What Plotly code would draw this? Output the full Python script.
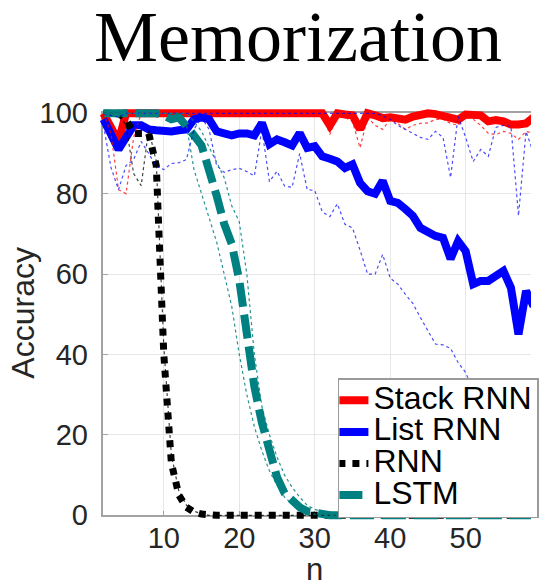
import plotly.graph_objects as go

# ---------------------------------------------------------------- data
n = [2, 3, 4, 5, 6, 7, 8, 9, 10, 11, 12, 13, 14, 15, 16, 17, 18, 19, 20,
     21, 22, 23, 24, 25, 26, 27, 28, 29, 30, 31, 32, 33, 34, 35, 36, 37, 38,
     39, 40, 41, 42, 43, 44, 45, 46, 47, 48, 49, 50, 51, 52, 53, 54, 55, 56,
     57, 58, 59]

# Stack RNN: best run (thick) and second run (thin dotted)
stack_rnn = [100, 96.5, 93, 100, 100, 100, 100, 100, 100, 100, 100, 100, 100,
             100, 100, 100, 100, 100, 100, 100, 100, 100, 100, 100, 100, 100,
             100, 100, 100, 100, 97, 100, 99.7, 99.5, 96, 100, 99.5, 98.8, 99,
             98.6, 98.4, 99.2, 99.7, 100, 99.8, 99.4, 98.8, 98.4, 99.7, 99.7,
             99.5, 98, 98.3, 98, 97.2, 97.2, 97.5, 99]
stack_rnn_alt = [100, 95, 81, 80, 94, 100, 100, 100, 100, 100, 100, 100, 100,
                 100, 100, 100, 100, 100, 100, 100, 100, 100, 100, 100, 100,
                 100, 100, 100, 100, 100, 94.7, 99.5, 99, 98, 91.4, 99, 97, 96,
                 98.5, 97.5, 96, 97, 97.5, 97.6, 98.5, 98.5, 97.5, 97, 99,
                 98.5, 97, 95, 94.7, 95.5, 95, 93.5, 95.5, 95]

# List RNN
list_rnn = [98.5, 95, 91, 94, 97, 97, 96, 95.8, 95.5, 95.5, 95.8, 96, 98.5,
            99, 98.5, 95.5, 95, 94.5, 95, 95, 94.5, 97.6, 92.3, 93.5, 92.8,
            92, 95.1, 91.4, 91.8, 89.3, 88.7, 88, 86.4, 87.3, 82.7, 80.6, 80,
            83.2, 78.2, 77.7, 76.2, 74.5, 71.5, 70.3, 69.5, 69, 63.8, 68.2,
            65.7, 57.5, 58.3, 58.3, 59.5, 60.8, 56.6, 45, 55.8, 52]
list_rnn_alt_hi = [100, 99.5, 99, 100, 100, 100, 100, 100, 100, 100, 100, 100,
                   100, 100, 100, 100, 100, 100, 100, 100, 100, 100, 100, 100,
                   100, 100, 100, 100, 100, 100, 100, 100, 100, 100, 100, 100,
                   100, 99.3, 98.5, 97, 96, 95, 94, 93.5, 95.5, 94, 84, 99.3,
                   94, 88, 91, 89.3, 96.5, 97, 96.8, 74.5, 95.5, 90]
list_rnn_alt_lo = [97, 86.5, 81, 87, 88.5, 93, 90, 86.8, 86, 87.5, 87.7, 88.5,
                   96, 99, 96, 87, 85.3, 86, 86.3, 85.5, 84.4, 96, 83, 85.6,
                   81.9, 81.6, 90, 81, 80.8, 75.5, 74.3, 77.5, 72.4, 71.5, 66,
                   60, 60, 64.9, 59, 57.5, 55, 52.7, 49.2, 46, 42.6, 42.4, 41.5,
                   38, 35.5, 31, 28, 26, 24, 22, 20, 18.5, 17, 16]

# RNN
rnn = [100, 100, 100, 98.5, 95, 95, 95, 87, 40, 13, 5, 2, 0.8, 0.3, 0, 0, 0,
       0, 0, 0, 0, 0, 0, 0, 0, 0, 0, 0, 0, 0, 0, 0, 0, 0, 0, 0, 0, 0, 0, 0, 0,
       0, 0, 0, 0, 0, 0, 0, 0, 0, 0, 0, 0, 0, 0, 0, 0, 0]
rnn_alt = [100, 100, 100, 97, 85, 82, 96, 88, 42, 15, 6, 2.5, 1, 0.4, 0, 0, 0,
           0, 0, 0, 0, 0, 0, 0, 0, 0, 0, 0, 0, 0, 0, 0, 0, 0, 0, 0, 0, 0, 0, 0,
           0, 0, 0, 0, 0, 0, 0, 0, 0, 0, 0, 0, 0, 0, 0, 0, 0, 0]

# LSTM
lstm = [100, 100, 100, 100, 100, 100, 100, 100, 99.5, 98.5, 99, 97, 94.5, 92,
        86.5, 79.5, 72.5, 67.5, 58.5, 44.5, 32, 23, 16, 9.5, 5.5, 3.5, 2, 1,
        0.5, 0.2, 0, 0, 0, 0, 0, 0, 0, 0, 0, 0, 0, 0, 0, 0, 0, 0, 0, 0, 0, 0,
        0, 0, 0, 0, 0, 0, 0, 0]
lstm_alt_lo = [100, 100, 100, 100, 100, 100, 100, 100, 100, 100, 100, 97, 86,
               80, 74, 68, 60, 52, 40, 30, 22, 16, 11, 7.5, 4.5, 2.8, 1.5, 0.7,
               0.3, 0, 0, 0, 0, 0, 0, 0, 0, 0, 0, 0, 0, 0, 0, 0, 0, 0, 0, 0, 0,
               0, 0, 0, 0, 0, 0, 0, 0, 0]
lstm_alt_hi = [100, 100, 100, 100, 100, 100, 100, 100, 100, 100, 100, 100, 98,
               95.5, 91.6, 88, 84, 77, 73, 60, 40, 27, 20, 14.5, 10, 7, 4.5,
               2.5, 1.5, 0.8, 0.3, 0, 0, 0, 0, 0, 0, 0, 0, 0, 0, 0, 0, 0, 0, 0,
               0, 0, 0, 0, 0, 0, 0, 0, 0, 0, 0, 0]

x_ticks = [10, 20, 30, 40, 50]
y_ticks = [0, 20, 40, 60, 80, 100]

for s in (stack_rnn, stack_rnn_alt, list_rnn, list_rnn_alt_hi, list_rnn_alt_lo,
          rnn, rnn_alt, lstm, lstm_alt_lo, lstm_alt_hi):
    assert len(s) == len(n)

# ---------------------------------------------------------------- geometry
W, H = 539, 584
LEFT, RIGHT, TOP, BOTTOM = 105.0, 539.0, 113.3, 515.3   # axes box (px)
X0, PX_PER_X = 2.0, 7.66
Y0, Y1 = 0.0, 100.0
X1 = X0 + (RIGHT - LEFT) / PX_PER_X
PX_PER_Y = (BOTTOM - TOP) / (Y1 - Y0)
PAD = 9.0   # lines may overdraw the box edge by this much

SANS = "Liberation Sans, Arial, Helvetica, sans-serif"
SERIF = "Liberation Serif, Times New Roman, serif"
AX_GREY = "#a3a3a3"
GRID = "#e6e6e6"
TICK_TXT = "#262626"

fig = go.Figure()

# invisible placeholder keeps the framed subplot alive
fig.add_trace(go.Scatter(x=[None], y=[None], xaxis="x", yaxis="y",
                         showlegend=False, hoverinfo="skip"))

main_style = dict(mode="lines", xaxis="x2", yaxis="y2", hoverinfo="skip")
fig.add_trace(go.Scatter(x=n, y=stack_rnn, name="Stack RNN",
                         line=dict(color="#ff0000", width=8), **main_style))
fig.add_trace(go.Scatter(x=n, y=list_rnn, name="List RNN",
                         line=dict(color="#0000ff", width=8), **main_style))
fig.add_trace(go.Scatter(x=n, y=rnn, name="RNN",
                         line=dict(color="#000000", width=7, dash="dot"),
                         **main_style))
fig.add_trace(go.Scatter(x=n, y=lstm, name="LSTM",
                         line=dict(color="#008080", width=8, dash="24px,8px"),
                         **main_style))

thin = dict(width=1.2, dash="3px,3px")
for vals, col in ((stack_rnn_alt, "rgba(255,0,0,0.75)"),
                  (list_rnn_alt_hi, "rgba(0,0,255,0.7)"),
                  (list_rnn_alt_lo, "rgba(0,0,255,0.7)"),
                  (rnn_alt, "rgba(0,0,0,0.75)"),
                  (lstm_alt_lo, "rgba(0,128,128,0.85)"),
                  (lstm_alt_hi, "rgba(0,128,128,0.85)")):
    fig.add_trace(go.Scatter(x=n, y=vals, showlegend=False,
                             line=dict(color=col, **thin), **main_style))

axis_common = dict(showgrid=True, gridcolor=GRID, gridwidth=1, zeroline=False,
                   showline=True, linecolor=AX_GREY, linewidth=1.5,
                   ticks="inside", ticklen=5, tickwidth=1, tickcolor=AX_GREY,
                   tickfont=dict(family=SANS, size=29, color=TICK_TXT),
                   fixedrange=True)

fig.update_layout(
    width=W, height=H,
    margin=dict(l=0, r=0, t=0, b=0, pad=0),
    paper_bgcolor="white", plot_bgcolor="rgba(0,0,0,0)",
    xaxis=dict(domain=[LEFT / W, RIGHT / W], range=[X0, X1], anchor="y",
               tickvals=x_ticks, mirror=True, ticklabelstandoff=-4,
               automargin=False, **axis_common),
    yaxis=dict(domain=[(H - BOTTOM) / H, (H - TOP) / H], range=[Y0, Y1],
               anchor="x", tickvals=y_ticks, ticklabelstandoff=8,
               automargin=False, **axis_common),
    xaxis2=dict(domain=[(LEFT - PAD) / W, RIGHT / W],
                range=[X0 - PAD / PX_PER_X, X1], anchor="y2", visible=False,
                fixedrange=True),
    yaxis2=dict(domain=[(H - BOTTOM - PAD) / H, (H - TOP + PAD) / H],
                range=[Y0 - PAD / PX_PER_Y, Y1 + PAD / PX_PER_Y],
                anchor="x2", visible=False, fixedrange=True),
    showlegend=True,
    legend=dict(x=343 / W, y=1 - 378 / H, xanchor="left", yanchor="top",
                bgcolor="white", bordercolor="#9a9a9a", borderwidth=1.5,
                font=dict(family=SANS, size=22, color="black"),
                indentation=-6, itemclick=False, itemdoubleclick=False),
    annotations=[
        dict(text="Memorization", x=302 / W, y=1 - 37.5 / H, xref="paper",
             yref="paper", xanchor="center", yanchor="middle",
             showarrow=False, font=dict(family=SERIF, size=72, color="black")),
        dict(text="Accuracy", x=22.5 / W, y=1 - 312.5 / H, xref="paper",
             yref="paper", xanchor="center", yanchor="middle", textangle=-90,
             showarrow=False, font=dict(family=SANS, size=32, color=TICK_TXT)),
        dict(text="n", x=319 / W, y=1 - 569 / H, xref="paper", yref="paper",
             xanchor="center", yanchor="middle", showarrow=False,
             font=dict(family=SANS, size=31, color=TICK_TXT)),
    ],
)

# legend labels rendered at the larger size while keeping compact rows
for tr in fig.data:
    if tr.name:
        tr.name = f'<span style="font-size:32px">{tr.name}</span>'

fig.write_html("out.html")
